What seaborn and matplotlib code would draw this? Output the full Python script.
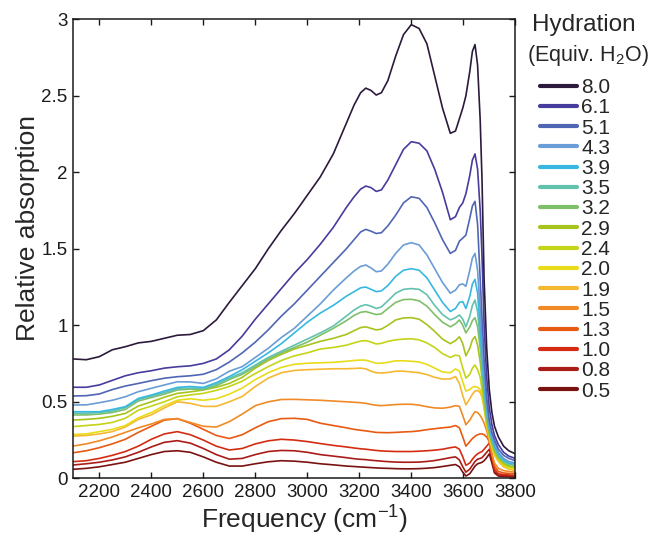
import numpy as np
import pandas as pd
import matplotlib
matplotlib.use("Agg")
import matplotlib.pyplot as plt
from matplotlib.lines import Line2D
import seaborn as sns

# Frequency grid (cm^-1) shared by all spectra
freq = [2100, 2150, 2200, 2250, 2300, 2350, 2400, 2450, 2500, 2550, 2600,
        2650, 2700, 2750, 2800, 2850, 2900, 2950, 3000, 3050, 3100, 3150,
        3180, 3205, 3225, 3245, 3265, 3285, 3310, 3340, 3370, 3400,
        3430, 3460, 3490, 3520, 3550,
        3570, 3585, 3598, 3610, 3625, 3635, 3645, 3655,
        3665, 3672, 3680, 3690, 3700, 3710, 3720, 3735, 3755, 3775, 3800]

hydration = ["8.0", "6.1", "5.1", "4.3", "3.9", "3.5", "3.2", "2.9",
             "2.4", "2.0", "1.9", "1.5", "1.3", "1.0", "0.8", "0.5"]

h80 = [.78, .775, .795, .84, .86, .885, .895, .915, .935, .94, .965,
       1.035, 1.15, 1.26, 1.37, 1.50, 1.62, 1.73, 1.85, 1.97, 2.12, 2.32,
       2.44, 2.52, 2.55, 2.535, 2.505, 2.52, 2.60, 2.76, 2.90, 2.965,
       2.94, 2.84, 2.63, 2.42, 2.255,
       2.27, 2.35, 2.42, 2.50, 2.66, 2.79, 2.835, 2.70,
       2.34, 1.95, 1.30, 0.85, 0.58, 0.43, 0.34, 0.27, 0.21, 0.18, 0.16]
h61 = [.595, .595, .61, .64, .67, .69, .703, .72, .729, .735, .751,
       .78, .84, .93, 1.04, 1.14, 1.24, 1.34, 1.43, 1.53, 1.64, 1.77,
       1.84, 1.89, 1.91, 1.90, 1.875, 1.885, 1.95, 2.05, 2.15, 2.20,
       2.19, 2.14, 2.02, 1.87, 1.69,
       1.71, 1.77, 1.80, 1.86, 1.98, 2.08, 2.12, 2.02,
       1.75, 1.45, 1.00, 0.66, 0.46, 0.35, 0.28, 0.22, 0.17, 0.145, 0.13]
h51 = [.538, .54, .551, .58, .603, .62, .638, .654, .664, .67, .68,
       .71, .76, .82, .89, .97, 1.06, 1.14, 1.23, 1.32, 1.41, 1.50,
       1.56, 1.61, 1.627, 1.615, 1.60, 1.605, 1.65, 1.72, 1.80, 1.84,
       1.83, 1.77, 1.67, 1.56, 1.47,
       1.49, 1.55, 1.57, 1.59, 1.70, 1.78, 1.81, 1.66,
       1.30, 1.05, 0.78, 0.53, 0.38, 0.30, 0.25, 0.19, 0.15, 0.13, 0.115]
h43 = [.479, .48, .494, .51, .533, .566, .588, .61, .631, .63, .62,
       .65, .70, .73, .79, .85, .92, .98, 1.06, 1.14, 1.23, 1.31,
       1.355, 1.385, 1.394, 1.375, 1.35, 1.355, 1.40, 1.47, 1.525, 1.54,
       1.525, 1.46, 1.37, 1.28, 1.21,
       1.23, 1.265, 1.27, 1.255, 1.36, 1.44, 1.47, 1.36,
       1.10, 0.88, 0.66, 0.47, 0.35, 0.28, 0.23, 0.17, 0.13, 0.11, 0.10]
h39 = [.435, .435, .435, .45, .468, .522, .544, .57, .594, .60, .594,
       .625, .665, .71, .765, .82, .88, .95, 1.02, 1.08, 1.13, 1.19,
       1.22, 1.245, 1.25, 1.235, 1.22, 1.225, 1.26, 1.32, 1.36, 1.37,
       1.36, 1.31, 1.23, 1.15, 1.09,
       1.11, 1.15, 1.155, 1.11, 1.19, 1.27, 1.30, 1.21,
       0.98, 0.80, 0.61, 0.44, 0.33, 0.26, 0.21, 0.16, 0.12, 0.10, 0.095]
h35 = [.425, .425, .43, .44, .462, .515, .537, .56, .585, .59, .587,
       .615, .655, .69, .74, .79, .83, .87, .91, .95, .995, 1.06,
       1.10, 1.125, 1.135, 1.125, 1.11, 1.12, 1.16, 1.21, 1.235, 1.24,
       1.235, 1.20, 1.13, 1.07, 1.035,
       1.05, 1.067, 1.04, .99, 1.06, 1.13, 1.165, 1.09,
       0.90, 0.74, 0.57, 0.42, 0.32, 0.25, 0.20, 0.15, 0.115, 0.095, 0.09]
h32 = [.414, .414, .42, .43, .45, .505, .528, .55, .577, .583, .58,
       .605, .645, .68, .73, .78, .82, .855, .89, .935, .98, 1.03,
       1.065, 1.085, 1.09, 1.08, 1.07, 1.075, 1.11, 1.15, 1.168, 1.17,
       1.16, 1.125, 1.07, 1.02, .99,
       1.01, 1.035, 1.0, .95, .99, 1.03, 1.05, .99,
       0.85, 0.70, 0.55, 0.40, 0.31, 0.24, 0.19, 0.14, 0.11, 0.09, 0.085]
h29 = [.381, .385, .392, .405, .424, .472, .50, .53, .555, .565, .577,
       .595, .62, .66, .72, .77, .81, .845, .87, .895, .915, .94,
       .965, .985, .99, .98, .97, .975, 1.0, 1.035, 1.048, 1.05,
       1.04, 1.005, .96, .91, .88,
       .90, .925, .88, .80, .85, .905, .926, .87,
       0.76, 0.65, 0.51, 0.38, 0.29, 0.23, 0.18, 0.13, 0.10, 0.08, 0.075]
h24 = [.338, .345, .352, .365, .392, .445, .472, .50, .533, .545, .555,
       .575, .60, .635, .685, .73, .77, .80, .82, .845, .855, .87,
       .885, .897, .90, .89, .878, .882, .895, .905, .91, .912,
       .905, .885, .855, .815, .79,
       .805, .80, .72, .655, .68, .72, .74, .71,
       0.66, 0.58, 0.47, 0.36, 0.28, 0.22, 0.17, 0.125, 0.09, 0.075, 0.07]
h20 = [.287, .29, .305, .32, .345, .395, .43, .475, .51, .52, .51,
       .52, .55, .59, .645, .69, .725, .745, .752, .755, .758, .765,
       .77, .773, .772, .762, .752, .752, .758, .768, .768, .765,
       .76, .745, .72, .695, .69,
       .715, .70, .63, .57, .58, .595, .60, .595,
       0.58, 0.55, 0.47, 0.35, 0.27, 0.21, 0.16, 0.12, 0.085, 0.065, 0.06]
h19 = [.276, .28, .29, .305, .335, .385, .415, .46, .50, .49, .47,
       .47, .50, .535, .60, .655, .69, .705, .71, .713, .716, .716,
       .718, .72, .715, .70, .69, .688, .692, .70, .70, .695,
       .69, .678, .66, .648, .65,
       .665, .62, .54, .48, .52, .55, .57, .575,
       0.56, 0.53, 0.46, 0.34, 0.26, 0.20, 0.15, 0.11, 0.075, 0.06, 0.05]
h15 = [.211, .225, .245, .27, .30, .33, .355, .385, .39, .365, .34,
       .335, .37, .42, .475, .50, .515, .516, .513, .51, .505, .50,
       .497, .494, .49, .483, .477, .475, .478, .482, .484, .484,
       .478, .468, .46, .458, .465,
       .475, .47, .41, .35, .38, .41, .435, .43,
       0.41, 0.39, 0.36, 0.31, 0.24, 0.16, 0.10, 0.065, 0.05, 0.045, 0.04]
h13 = [.167, .18, .20, .225, .255, .30, .34, .38, .39, .36, .32,
       .28, .26, .285, .33, .37, .39, .392, .385, .36, .345, .33,
       .32, .314, .31, .305, .30, .299, .298, .30, .303, .305,
       .31, .318, .324, .33, .335,
       .345, .33, .27, .21, .24, .26, .275, .285,
       0.29, 0.29, 0.285, 0.27, 0.24, 0.15, 0.08, 0.045, 0.035, 0.032, 0.03]
h10 = [.109, .115, .13, .15, .175, .21, .255, .29, .305, .285, .25,
       .21, .185, .195, .225, .245, .255, .25, .24, .227, .215, .205,
       .198, .193, .19, .186, .182, .179, .177, .175, .175, .175,
       .177, .18, .184, .19, .20,
       .205, .19, .14, .085, .10, .125, .145, .16,
       0.17, 0.175, 0.19, 0.21, 0.23, 0.15, 0.06, 0.03, 0.025, 0.022, 0.02]
h08 = [.087, .095, .105, .12, .14, .17, .205, .235, .246, .23, .195,
       .155, .125, .13, .155, .175, .182, .18, .17, .155, .145, .135,
       .128, .124, .122, .118, .115, .112, .109, .106, .105, .105,
       .106, .11, .116, .125, .135,
       .14, .12, .075, .04, .06, .085, .11, .125,
       0.13, 0.135, 0.15, 0.17, 0.19, 0.12, 0.045, 0.022, 0.018, 0.016, 0.015]
h05 = [.059, .065, .075, .09, .105, .13, .155, .175, .18, .17, .14,
       .105, .08, .08, .095, .108, .115, .112, .105, .095, .088, .08,
       .077, .074, .072, .07, .068, .066, .065, .063, .062, .062,
       .063, .066, .07, .077, .085,
       .09, .075, .04, .015, .03, .055, .08, .095,
       0.10, 0.105, 0.115, 0.135, 0.16, 0.10, 0.035, 0.015, 0.012, 0.011, 0.01]

series = [h80, h61, h51, h43, h39, h35, h32, h29,
          h24, h20, h19, h15, h13, h10, h08, h05]

colors = ["#2c1a3b", "#463c9c", "#5066b4", "#6a9cd6", "#38b8e0", "#62c2ae",
          "#80bf6a", "#a6c41c", "#c4d416", "#e8dc1a", "#f5b832", "#f08a26",
          "#e85a12", "#d42c12", "#a91c18", "#7a1212"]
palette = dict(zip(hydration, colors))

df = pd.DataFrame({
    "Frequency": np.tile(freq, len(hydration)),
    "Absorption": np.concatenate(series),
    "Hydration": np.repeat(hydration, len(freq)),
})

sns.set_theme(style="ticks")
plt.rcParams["font.family"] = ["Liberation Sans", "DejaVu Sans"]
plt.rcParams["mathtext.fontset"] = "custom"
plt.rcParams["mathtext.rm"] = "Liberation Sans"
plt.rcParams["mathtext.it"] = "Liberation Sans:italic"

fig = plt.figure(figsize=(6.51, 5.43), dpi=100)
ax = fig.add_axes([73.3 / 651, 1 - 478.3 / 543, 442 / 651, 459 / 543])

sns.lineplot(data=df, x="Frequency", y="Absorption", hue="Hydration",
             hue_order=hydration[::-1], palette=palette, sort=False,
             estimator=None, linewidth=1.2, legend=False, ax=ax)

ax.set_xlim(2100, 3800)
ax.set_ylim(0, 3)
ax.set_xticks(range(2200, 3801, 200))
ax.set_yticks([0, 0.5, 1, 1.5, 2, 2.5, 3])
ax.set_yticklabels(["0", "0.5", "1", "1.5", "2", "2.5", "3"])
ax.tick_params(direction="in", length=4.5, width=1.0, labelsize=13.5,
               top=True, right=True, colors="#1a1a1a", pad=4)
for s in ax.spines.values():
    s.set_linewidth(1.1)
    s.set_color("#1a1a1a")

ax.set_xlabel("Frequency (cm$^{-1}$)", fontsize=19, va="center")
ax.xaxis.set_label_coords(0.524, -0.091)
ax.set_ylabel("Relative absorption", fontsize=19, va="center")
ax.yaxis.set_label_coords(-0.103, 0.545)

# Legend: title lines as text, entries as a frameless legend
fig.text(584 / 651, 1 - 25 / 543, "Hydration", ha="center", va="center",
         fontsize=17.5)
fig.text(588 / 651, 1 - 55 / 543, "(Equiv. H$_2$O)", ha="center",
         va="center", fontsize=15.5)
handles = [Line2D([0], [0], color=palette[h], lw=3.0) for h in hydration]
fig.legend(handles, hydration, loc="upper left",
           bbox_to_anchor=(540 / 651, 1 - 78 / 543), frameon=False,
           fontsize=15, handlelength=1.78, handletextpad=0.2,
           labelspacing=0.06, borderpad=0.0, borderaxespad=0.0)

fig.savefig("out.png", dpi=100)
